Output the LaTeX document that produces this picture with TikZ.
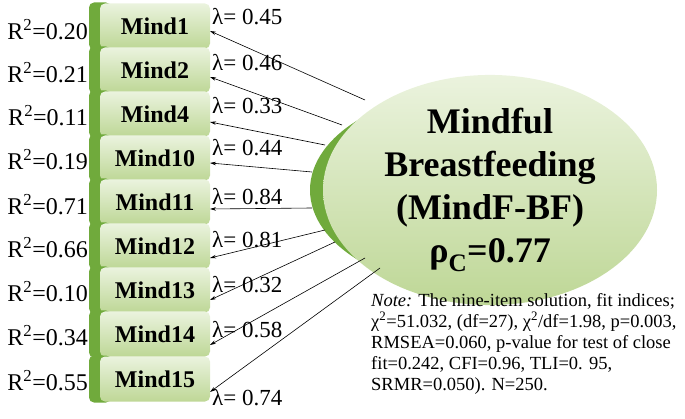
\documentclass[tikz,border=0pt]{standalone}
\usepackage{fontspec}
\setmainfont{Liberation Serif}
\usetikzlibrary{shapes.geometric,arrows.meta}
\definecolor{dg}{RGB}{112,170,60}
\definecolor{lg}{RGB}{235,243,222}
\definecolor{mg}{RGB}{190,215,150}
\tikzset{
 strip/.style={fill=dg,rounded corners=5pt,minimum width=22pt,minimum height=47pt,inner sep=0pt},
 itembox/.style={rounded corners=5pt,top color=lg,bottom color=mg,minimum width=110pt,minimum height=45pt,inner sep=0pt,font=\fontsize{24}{24}\selectfont\bfseries},
 rlab/.style={anchor=east,font=\fontsize{24}{24}\selectfont,inner sep=0pt},
 llab/.style={anchor=west,font=\fontsize{23}{23}\selectfont,inner sep=0pt},
 arr/.style={-{Stealth[length=6pt,width=3.5pt]},line width=0.6pt}
}
\begin{document}
\begin{tikzpicture}[x=1pt,y=-1pt]
\useasboundingbox (0,0) rectangle (685,419);
\foreach \n/\t/\yy in {1/Mind1/26,2/Mind2/70,3/Mind4/114,4/Mind10/158,5/Mind11/202,6/Mind12/246,7/Mind13/290,8/Mind14/334,9/Mind15/379}{
  \node[strip] (s\n) at (100,\yy) {};
  \node[itembox] (m\n) at (155,\yy) {\t};
}
\foreach \n/\r/\yy in {1/0.20/30,2/0.21/73,3/0.11/116,4/0.19/160,5/0.71/205,6/0.66/248,7/0.10/292,8/0.34/336,9/0.55/381}{
  \node[rlab] (r\n) at (88,\yy) {R\textsuperscript{2}=\r};
}
\foreach \n/\l/\yy in {1/0.45/17,2/0.46/63,3/0.33/106,4/0.44/148,5/0.84/197,6/0.81/240,7/0.32/285,8/0.58/330,9/0.74/398}{
  \node[llab] (l\n) at (212,\yy) {λ= \l};
}
\node[ellipse,fill=dg,minimum width=336pt,minimum height=200pt] (sh) at (478,190) {};
\node[ellipse,top color=lg,bottom color=mg,minimum width=334pt,minimum height=200pt,align=center,inner sep=0pt,font=\fontsize{36}{43}\selectfont\bfseries] (f) at (490,190) {Mindful\\Breastfeeding\\(MindF-BF)\\ρ\textsubscript{C}=0.77};
\foreach \n/\x/\y/\ey in {1/365/100/31,2/342/125/77,3/325/145/122,4/312/172/163,5/312/208/209,6/325/230/258,7/335/242/300,8/365/258/345,9/380/268/392}{
  \coordinate (c\n) at (\x,\y);
  \coordinate (e\n) at (210,\ey);
  \draw[arr] (c\n) -- (e\n);
}
\node[anchor=north west,align=left,inner sep=0pt,font=\fontsize{18.5}{21}\selectfont] (note) at (371,293) {\textit{Note:} The nine-item solution, fit indices;\\
χ\textsuperscript{2}=51.032, (df=27), χ\textsuperscript{2}/df=1.98, p=0.003,\\
RMSEA=0.060, p-value for test of close\\
fit=0.242, CFI=0.96, TLI=0. 95,\\
SRMR=0.050). N=250.};
\end{tikzpicture}
\end{document}
